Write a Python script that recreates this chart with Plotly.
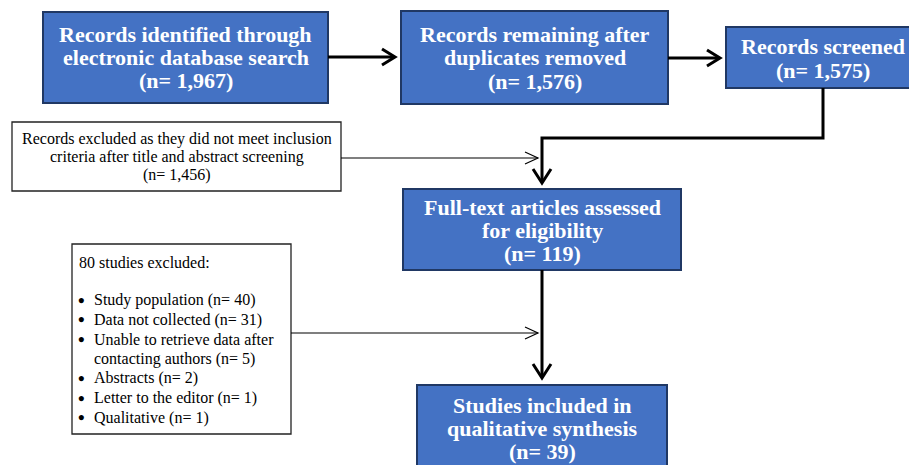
import plotly.graph_objects as go

# ---- data (flow counts and labels) ----
stage_titles = [
    ["Records identified through", "electronic database search"],
    ["Records remaining after", "duplicates removed"],
    ["Records screened"],
    ["Full-text articles assessed", "for eligibility"],
    ["Studies included in", "qualitative synthesis"],
]
stage_counts = ["1,967", "1,576", "1,575", "119", "39"]

excl1_lines = ["Records excluded as they did not meet inclusion",
               "criteria after title and abstract screening"]
excl1_count = "1,456"

excl2_header = "80 studies excluded:"
excl2_items = ["Study population (n= 40)",
               "Data not collected (n= 31)",
               ["Unable to retrieve data after", "contacting authors (n= 5)"],
               "Abstracts (n= 2)",
               "Letter to the editor (n= 1)",
               "Qualitative (n= 1)"]

# ---- layout geometry (pixel space) ----
W, H = 909, 465
stage_boxes = [  # x0, x1, y0, y1, line y positions
    (43, 328, 12, 103, [34, 57, 80]),
    (401, 668, 11, 104, [34, 57, 81]),
    (726, 920, 27, 88, [46, 70]),
    (403, 681, 189, 270, [207, 230, 253]),
    (417, 667, 385, 480, [405, 428, 451]),
]
FILL = "#4472C4"
EDGE = "#203864"
SERIF = "Liberation Serif"

fig = go.Figure()
shapes = []
ann = []

def text(x, y, s, size, color="black", bold=False, xanchor="center"):
    ann.append(dict(x=x, y=y, xref="x", yref="y", text=("<b>%s</b>" % s) if bold else s,
                    showarrow=False, xanchor=xanchor, yanchor="middle",
                    font=dict(family=SERIF, size=size, color=color)))

for (x0, x1, y0, y1, ys), title, cnt in zip(stage_boxes, stage_titles, stage_counts):
    shapes.append(dict(type="rect", x0=x0, x1=x1, y0=y0, y1=y1, xref="x", yref="y",
                       fillcolor=FILL, line=dict(color=EDGE, width=2), layer="below"))
    lines = title + ["(n= %s)" % cnt]
    for s, yy in zip(lines, ys):
        text((x0 + x1) / 2, yy, s, 22, color="white", bold=True)

# exclusion box 1
shapes.append(dict(type="rect", x0=12, x1=341, y0=122, y1=191, xref="x", yref="y",
                   fillcolor="white", line=dict(color="#222222", width=1.3)))
for s, yy in zip(excl1_lines + ["(n= %s)" % excl1_count], [139, 157, 175]):
    text(176.5, yy, s, 16)

# exclusion box 2
shapes.append(dict(type="rect", x0=72, x1=291, y0=244, y1=434, xref="x", yref="y",
                   fillcolor="white", line=dict(color="#222222", width=1.3)))
text(77, 262, excl2_header, 16, xanchor="left")
yy = 300
for item in excl2_items:
    lines = item if isinstance(item, list) else [item]
    text(76, yy, "<b>•</b>", 19, xanchor="left")
    for s in lines:
        text(92, yy, s, 16, xanchor="left")
        yy += 19.6

def path(pts, width, color="black"):
    d = "M " + " L ".join("%g %g" % p for p in pts)
    shapes.append(dict(type="path", path=d, xref="x", yref="y",
                       line=dict(color=color, width=width)))

def head(tip, direction, back, half, width):
    x, y = tip
    if direction == "right":
        pts = [(x - back, y - half), (x, y), (x - back, y + half)]
    else:  # down
        pts = [(x - half, y - back), (x, y), (x + half, y - back)]
    path(pts, width)

# thick flow arrows
path([(328, 57), (394, 57)], 3)
head((395, 57), "right", 13, 8, 3)
path([(668, 58), (719, 58)], 3)
head((720, 58), "right", 13, 8, 3)
path([(823, 88), (823, 138), (542, 138), (542, 182)], 3)
head((542, 183), "down", 14, 9, 3)
path([(542, 270), (542, 377)], 3)
head((542, 378), "down", 14, 9, 3)

# thin exclusion arrows
path([(341, 158), (538, 158)], 1.2)
head((538, 158), "right", 13, 6, 1.2)
path([(291, 333), (538, 333)], 1.2)
head((538, 333), "right", 13, 6, 1.2)

fig.update_layout(
    width=W, height=H, margin=dict(l=0, r=0, t=0, b=0),
    paper_bgcolor="white", plot_bgcolor="white",
    xaxis=dict(range=[0, W], visible=False, fixedrange=True),
    yaxis=dict(range=[H, 0], visible=False, fixedrange=True),
    shapes=shapes, annotations=ann, showlegend=False,
)
fig.write_html("out.html", config={"displayModeBar": False},
               post_script="document.body.style.margin='0';document.body.style.overflow='hidden';")
